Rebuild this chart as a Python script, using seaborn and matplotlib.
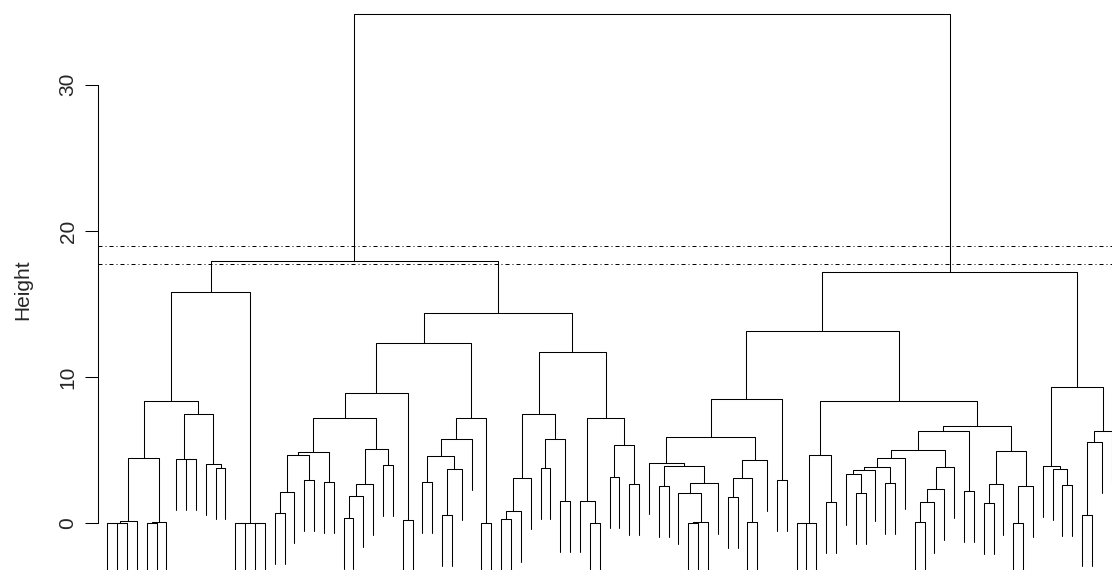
import pandas as pd
import seaborn as sns
import matplotlib
matplotlib.use("Agg")
import matplotlib.pyplot as plt

# hclust style merge table: negative = single observation, positive = earlier merge row (1-based)
merge_left = [-1, 1, 2, -5, 4, 3, -9, -8, -12, -11,
              8, 6, -14, -16, 13, 12, -18, 17, -21, 18,
              -23, 20, -25, 23, 24, -29, 25, 22, -31, 28,
              -33, -35, 32, 31, 34, -39, 35, 30, -41, 39,
              40, -45, -47, 42, 41, -50, -49, -52, -54, 48,
              47, 45, 38, 16, -57, -60, 56, -59, 58, 55,
              -56, -64, -66, 62, 64, 61, -69, 66, -71, 69,
              -74, 70, -77, -76, 74, -80, 75, 77, -83, 79,
              80, 81, 78, -88, 83, -90, 86, -93, 88, 87,
              85, 72, 68, -98, -97, -96, -100, 97, 98, 96,
              93, 54]
merge_right = [-2, -3, -4, -6, -7, 5, -10, 7, -13, 9,
               10, 11, -15, -17, 14, 15, -19, -20, -22, 19,
               -24, 21, -26, -27, -28, -30, 26, 27, -32, 29,
               -34, -36, -37, 33, -38, -40, 36, 37, -42, -43,
               -44, -46, -48, 43, 44, -51, 46, -53, -55, 49,
               50, 51, 52, 53, -58, -61, -62, 57, -63, 59,
               60, -65, -67, 63, -68, 65, -70, 67, -72, -73,
               -75, 71, -78, 73, -79, -81, 76, -82, -84, -85,
               -86, -87, 82, -89, 84, -91, -92, -94, -95, 89,
               90, 91, 92, -99, 94, 95, -101, -102, -103, 99,
               100, 101]
merge_height = [0.00, 0.05, 0.18, 0.00, 0.11, 4.47, 4.39, 4.42, 3.81, 4.06,
                7.45, 8.34, 0.00, 0.00, 0.02, 15.84, 0.73, 2.12, 2.96, 4.65,
                2.82, 4.90, 0.36, 1.89, 2.71, 3.99, 5.06, 7.18, 0.20, 8.93,
                2.82, 0.59, 3.69, 4.58, 5.74, 0.00, 7.18, 12.33, 0.32, 0.82,
                3.12, 3.76, 1.55, 5.74, 7.45, 0.00, 1.55, 3.17, 2.71, 5.33,
                7.22, 11.74, 14.36, 17.94, 2.57, 0.00, 0.11, 2.05, 2.78, 3.92,
                4.12, 1.82, 0.11, 3.12, 4.35, 5.93, 2.94, 8.52, 0.00, 0.02,
                1.48, 4.65, 2.05, 3.35, 3.65, 2.76, 3.83, 4.47, 0.11, 1.48,
                2.37, 3.87, 4.99, 2.19, 6.29, 1.41, 2.71, 0.05, 2.53, 4.95,
                6.63, 8.34, 13.17, 2.64, 3.69, 3.92, 0.55, 5.58, 6.34, 9.30,
                17.19, 34.85]

cut_heights = [18.97, 17.74]
y_ticks = [0, 10, 20, 30]
hang = 0.1

n_merge = len(merge_height)


# leaf order: walk the merge table, left branch first
def walk(k):
    out = []
    for child in (merge_left[k - 1], merge_right[k - 1]):
        out += [-child] if child < 0 else walk(child)
    return out


leaf_order = walk(n_merge)
leaf_pos = {leaf: i + 1 for i, leaf in enumerate(leaf_order)}
drop = hang * (max(merge_height) - min(merge_height))

centre = {}
rows = []
for k in range(1, n_merge + 1):
    h = merge_height[k - 1]
    ends = []
    for child in (merge_left[k - 1], merge_right[k - 1]):
        if child < 0:
            ends.append((leaf_pos[-child], h - drop))
        else:
            ends.append((centre[child], merge_height[child - 1]))
    (xl, yl), (xr, yr) = ends
    centre[k] = (xl + xr) / 2
    for x, y in [(xl, yl), (xl, h), (xr, h), (xr, yr)]:
        rows.append({"merge": k, "x": x, "y": y})
segs = pd.DataFrame(rows)

sns.set_style("white")
plt.rcParams["font.family"] = ["Liberation Sans", "DejaVu Sans"]

W, H = 1112, 570
fig = plt.figure(figsize=(W / 100, H / 100), dpi=100)
left = 98.3 / W
ax = fig.add_axes([left, 0, 1 - left, 1])

sns.lineplot(data=segs, x="x", y="y", units="merge", estimator=None, sort=False,
             color="black", lw=0.75, ax=ax, legend=False)
for h in cut_heights:
    ax.axhline(h, color="black", lw=0.72, ls=(0, (4, 3, 1, 3)))

ax.set_xlim(0.086, 103.03)
ax.set_ylim(-3.19, 35.79)

sns.despine(ax=ax, bottom=True)
ax.spines["left"].set_bounds(0, 30)
ax.spines["left"].set_color("black")
ax.spines["left"].set_linewidth(0.75)
ax.set_xticks([])
ax.set_xlabel("")
ax.set_yticks(y_ticks)
ax.set_yticklabels([str(t) for t in y_ticks], rotation=90, va="center", fontsize=15)
ax.tick_params(axis="y", left=True, length=9.6, width=0.75, pad=5.3, color="black")
ax.set_ylabel("Height", fontsize=15)
ax.yaxis.set_label_coords((32.7 - 98.3) / (W - 98.3), 0.491)

fig.savefig("out.png", dpi=100)
